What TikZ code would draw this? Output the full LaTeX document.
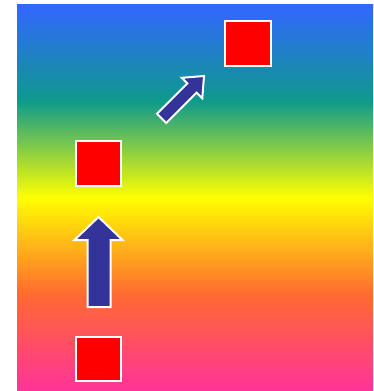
\documentclass[tikz,border=0pt]{standalone}
\definecolor{cblue}{HTML}{3366FF}
\definecolor{cteal}{HTML}{0E9A8C}
\definecolor{cyellow}{HTML}{FFFF00}
\definecolor{corange}{HTML}{FF6A30}
\definecolor{cpink}{HTML}{FF3399}
\definecolor{arrowblue}{HTML}{333399}
\pgfdeclareverticalshading{rainbow}{100bp}{color(0bp)=(cpink); color(25bp)=(cpink); color(37.5bp)=(corange); color(50bp)=(cyellow); color(62.5bp)=(cteal); color(75bp)=(cblue); color(100bp)=(cblue)}
\tikzset{
  redsq/.style={fill=red, draw=white, line width=2pt},
  bigarrow/.style={fill=arrowblue, draw=white, line width=2pt, line join=miter}
}
\begin{document}
\begin{tikzpicture}[x=1pt,y=-1pt]
\useasboundingbox (0,0) rectangle (373,391);
\shade[shading=rainbow] (17,4) rectangle (373,391);
% squares
\draw[redsq] (76,337) rectangle (121,381);
\draw[redsq] (76,141) rectangle (121,186);
\draw[redsq] (225,21) rectangle (271,66);
% up arrow
\draw[bigarrow] (87.5,307) -- (87.5,240) -- (74.5,240) -- (98.5,217) -- (122.5,240) -- (110.5,240) -- (110.5,307) -- cycle;
% diagonal arrow
\draw[bigarrow] (157,113.8) -- (187.4,83.4) -- (181.8,77.8) -- (204,76) -- (202.3,98.3) -- (196.6,92.6) -- (166.2,123) -- cycle;
\end{tikzpicture}
\end{document}
